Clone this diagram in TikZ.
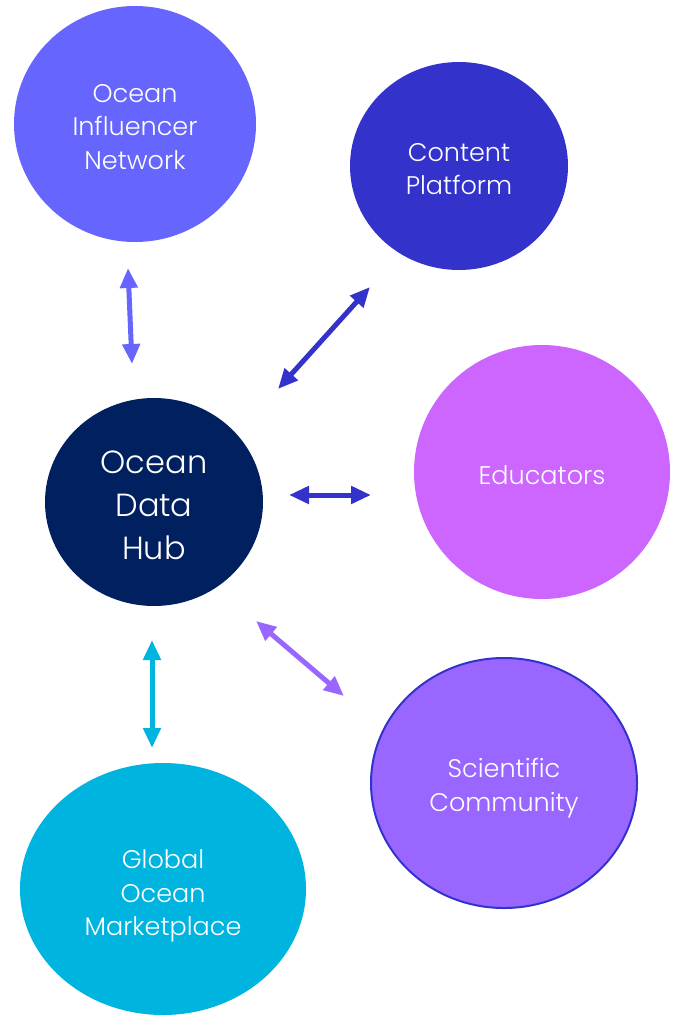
\documentclass[tikz,border=0pt]{standalone}
\usepackage{fontspec}
\setmainfont{Poppins Light}
\usetikzlibrary{shapes.geometric,arrows.meta}
\definecolor{cInf}{HTML}{6666FF}
\definecolor{cCont}{HTML}{3333CC}
\definecolor{cEdu}{HTML}{CC66FF}
\definecolor{cHub}{HTML}{00205F}
\definecolor{cSci}{HTML}{9966FF}
\definecolor{cMkt}{HTML}{00B4E0}
\tikzset{
  blob/.style={ellipse, inner sep=0pt},
  caption/.style={text=white, align=center, inner sep=0pt,
    font=\fontsize{25.5}{33.5}\selectfont},
  link/.style={line width=5pt, {Triangle[length=20pt,width=17pt]}-{Triangle[length=20pt,width=17pt]}},
}
\begin{document}
\begin{tikzpicture}[x=1pt,y=-1pt]
  \useasboundingbox (0,0) rectangle (677,1016);
  % partner circles
  \node[blob, fill=cInf, minimum width=242pt, minimum height=236pt] (inf) at (135,124) {};
  \node[blob, fill=cCont, minimum width=218pt, minimum height=208pt] (cont) at (459,166) {};
  \node[blob, fill=cEdu, minimum width=256pt, minimum height=254pt] (edu) at (542,472) {};
  \node[blob, fill=cHub, minimum width=218pt, minimum height=208pt] (hub) at (154,502) {};
  \node[blob, fill=cSci, draw=cCont, line width=2pt, minimum width=266pt, minimum height=250pt] (sci) at (504,783) {};
  \node[blob, fill=cMkt, minimum width=286pt, minimum height=252pt] (mkt) at (163,889) {};
  % captions
  \node[caption] (infT) at ([yshift=-3pt]inf.center) {Ocean\\Influencer\\Network};
  \node[caption] (contT) at ([yshift=-3pt]cont.center) {Content\\Platform};
  \node[caption] (eduT) at ([yshift=-3pt]edu.center) {Educators};
  \node[caption, font=\fontsize{32}{43}\selectfont] (hubT) at ([yshift=-3pt]hub.center) {Ocean\\Data\\Hub};
  \node[caption] (sciT) at ([yshift=-5pt]sci.center) {Scientific\\Community};
  \node[caption] (mktT) at ([yshift=-7pt]mkt.center) {Global\\Ocean\\Marketplace};
  % arrow end points
  \coordinate (infA) at (128,268);
  \coordinate (hubA) at (132,364);
  \coordinate (contA) at (370,287);
  \coordinate (hubB) at (278,389);
  \coordinate (hubC) at (289,495);
  \coordinate (eduA) at (371,495);
  \coordinate (hubD) at (256,621);
  \coordinate (sciA) at (344,696);
  \coordinate (hubE) at (152,640);
  \coordinate (mktA) at (152,748);
  % two-way links
  \draw[link, cInf] (infA) -- (hubA);
  \draw[link, cCont] (contA) -- (hubB);
  \draw[link, cCont] (hubC) -- (eduA);
  \draw[link, cSci] (hubD) -- (sciA);
  \draw[link, cMkt] (hubE) -- (mktA);
\end{tikzpicture}
\end{document}
